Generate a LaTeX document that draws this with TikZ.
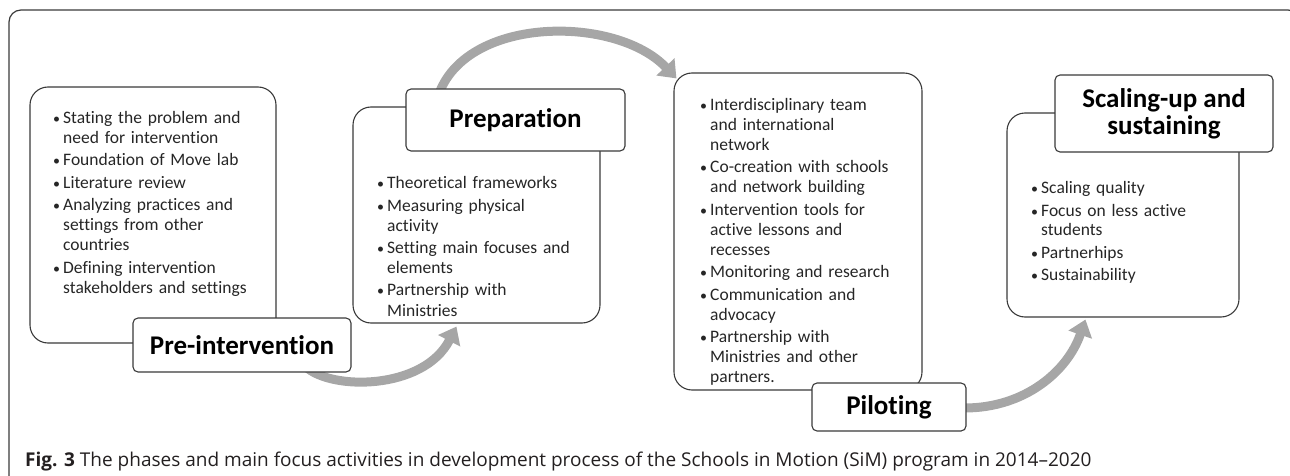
\documentclass[tikz,border=0pt]{standalone}
\usepackage{fontspec}
\setmainfont{Carlito}[Ligatures={NoCommon,NoRequired,NoContextual},Contextuals={NoAlternate}]
\newfontfamily\capfont{Open Sans}
\usetikzlibrary{arrows.meta}
\usetikzlibrary{backgrounds}
\definecolor{flowgray}{HTML}{A6A6A6}
\definecolor{boxline}{HTML}{3A3A3A}
\definecolor{captext}{HTML}{231F20}
% bullet item and hanging continuation line
\newcommand{\itm}{\par\parskip=2.5pt\noindent
  \makebox[10pt][l]{\fontsize{14}{14}\selectfont\textbullet}}
\newcommand{\nl}{\newline\hspace*{10pt}}
\tikzset{
  phasebox/.style={draw=boxline, line width=1.1pt, rounded corners=18pt, fill=white, inner sep=0pt},
  titlebox/.style={draw=boxline, line width=1.1pt, rounded corners=5pt, fill=white, inner sep=0pt,
    align=center, font=\fontsize{27}{27}\selectfont\bfseries},
  itemtext/.style={anchor=base west, inner sep=0pt, text width=#1, align=left,
    text=black!85, font=\fontsize{17.5}{20}\selectfont},
  itemtext/.default=225pt,
  flow/.style={draw=flowgray, line width=9pt, -{Triangle[width=24pt,length=16pt]}}
}

\begin{document}
\begin{tikzpicture}[x=1pt,y=-1pt]
  \clip (0,0) rectangle (1290,476);
  \draw[boxline, line width=1.2pt, rounded corners=12pt] (9,10) rectangle (1300,492);

  % phase boxes
  \node[phasebox, minimum width=246pt, minimum height=256pt] (prebody) at (153,215) {};
  \node[phasebox, minimum width=247pt, minimum height=216pt] (prepbody) at (476.5,215) {};
  \node[phasebox, minimum width=248pt, minimum height=317pt] (pilotbody) at (798,231.5) {};
  \node[phasebox, minimum width=232pt, minimum height=204pt] (scalebody) at (1123,215) {};

  \node[titlebox, minimum width=218pt, minimum height=54pt] (pretitle) at (242,345) {Pre-intervention};
  \node[titlebox, minimum width=219pt, minimum height=62pt] (preptitle) at (515.5,120) {Preparation};
  \node[titlebox, minimum width=154pt, minimum height=48pt] (pilottitle) at (889,407) {Piloting};
  \node[titlebox, minimum width=218pt, minimum height=77pt] (scaletitle) at (1164,113.5) {Scaling-up and\\sustaining};

  % activities
  \node[itemtext] (pretext) at (53,101) {%
    \itm Stating the problem and\nl need for intervention
    \itm Foundation of Move lab
    \itm Literature review
    \itm Analyzing practices and\nl settings from other\nl countries
    \itm Defining intervention\nl stakeholders and settings};
  \node[itemtext] (preptext) at (377,166) {%
    \itm Theoretical frameworks
    \itm Measuring physical\nl activity
    \itm Setting main focuses and\nl elements
    \itm Partnership with\nl Ministries};
  \node[itemtext] (pilottext) at (700,88) {%
    \itm Interdisciplinary team\nl and international\nl network
    \itm Co-creation with schools\nl and network building
    \itm Intervention tools for\nl active lessons and\nl recesses
    \itm Monitoring and research
    \itm Communication and\nl advocacy
    \itm Partnership with\nl Ministries and other\nl partners.};
  \node[itemtext=200pt] (scaletext) at (1031,171) {%
    \itm Scaling quality
    \itm Focus on less active\nl students
    \itm Partnerhips
    \itm Sustainability};

  % arrows between phases
  \begin{scope}[on background layer]
    \draw[flow] ([shift={(-46,-6)}]pretitle.south east) .. controls +(25,24) and +(-33,64) .. ([xshift=104pt,yshift=-3pt]prepbody.south west);
    \draw[flow] ([shift={(34,4)}]preptitle.north west) .. controls +(30,-77) and +(-60,-63) .. ([xshift=3pt,yshift=-6pt]pilotbody.north west);
    \draw[flow] ([xshift=-2pt,yshift=-1pt]pilottitle.east) .. controls +(60,0) and +(-18,52) .. ([xshift=79pt,yshift=-2pt]scalebody.south west);
  \end{scope}

  \node[anchor=base west, inner sep=0pt, text=captext, font=\capfont\fontsize{19}{19}\selectfont] (caption) at (25,466)
    {\textbf{Fig. 3} The phases and main focus activities in development process of the Schools in Motion (SiM) program in 2014–2020};
\end{tikzpicture}
\end{document}
